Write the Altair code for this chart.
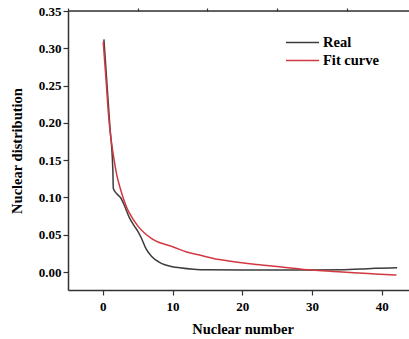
import altair as alt
import pandas as pd

real_x = [0.15, 0.5, 1.0, 1.43, 1.5, 2.0, 2.6, 3.1, 3.8, 4.5, 5.0, 5.5, 6.2, 7.0, 8.0, 9.0, 10.0, 11.0, 13.0, 15.0, 20.0, 25.0, 30.0, 34.0, 37.0, 39.0, 42.2]
real_y = [0.312, 0.264, 0.196, 0.137, 0.112, 0.105, 0.099, 0.089, 0.073, 0.062, 0.055, 0.046, 0.031, 0.021, 0.0138, 0.0095, 0.0072, 0.0058, 0.0038, 0.003, 0.0027, 0.0027, 0.0027, 0.003, 0.004, 0.005, 0.0058]

fit_x = [0.05, 0.5, 0.8, 1.0, 1.5, 2.0, 2.5, 3.0, 3.5, 4.0, 5.0, 6.0, 7.0, 8.0, 9.0, 10.0, 12.0, 14.0, 16.0, 18.0, 20.0, 22.5, 25.0, 28.0, 30.0, 33.0, 36.0, 39.0, 42.1]
fit_y = [0.309, 0.252, 0.212, 0.192, 0.157, 0.130, 0.112, 0.097, 0.085, 0.076, 0.062, 0.052, 0.045, 0.040, 0.037, 0.034, 0.027, 0.0225, 0.018, 0.015, 0.0125, 0.0097, 0.0075, 0.0045, 0.0027, 0.0008, -0.001, -0.0025, -0.004]

series_names = ["Real", "Fit curve"]
series_colors = ["#3c3c3c", "#d2383f"]

y_major = [0.0, 0.05, 0.10, 0.15, 0.20, 0.25, 0.30, 0.35]
y_minor = [-0.025, 0.025, 0.075, 0.125, 0.175, 0.225, 0.275, 0.325]
x_major = [0, 10, 20, 30, 40]
x_minor = [-5, 5, 15, 25, 35]

df = pd.concat([
    pd.DataFrame({"x": real_x, "y": real_y, "series": "Real", "o": range(len(real_x))}),
    pd.DataFrame({"x": fit_x, "y": fit_y, "series": "Fit curve", "o": range(len(fit_x))}),
])

FONT = "Liberation Serif"
AX = "#333333"
W, H = 341, 279

xscale = alt.Scale(domain=[-5, 43.9], nice=False, zero=False)
yscale = alt.Scale(domain=[-0.024, 0.35], nice=False, zero=False)

xaxis = alt.Axis(values=x_major, title="Nuclear number", format="d", grid=False,
                 domainColor=AX, domainWidth=1.5, tickColor=AX, tickWidth=1.2, tickSize=5,
                 labelFont=FONT, labelFontSize=13, labelFontWeight="bold", labelColor="black",
                 labelPadding=5, labelFlush=False,
                 titleFont=FONT, titleFontSize=14.5, titleFontWeight="bold", titleColor="black",
                 titleX=174.5, titleY=43, titleBaseline="alphabetic")
yaxis = alt.Axis(values=y_major, title="Nuclear distribution", format=".2f", grid=False,
                 domainColor=AX, domainWidth=1.5, tickColor=AX, tickWidth=1.2, tickSize=5,
                 labelFont=FONT, labelFontSize=13, labelFontWeight="bold", labelColor="black",
                 labelPadding=2, labelFlush=False,
                 titleFont=FONT, titleFontSize=14.5, titleFontWeight="bold", titleColor="black",
                 titleX=-50.5, titleBaseline="middle")

lines = alt.Chart(df).mark_line(strokeWidth=1.5, interpolate="monotone").encode(
    x=alt.X("x:Q", scale=xscale, axis=xaxis),
    y=alt.Y("y:Q", scale=yscale, axis=yaxis),
    color=alt.Color("series:N",
                    scale=alt.Scale(domain=series_names, range=series_colors),
                    legend=alt.Legend(title=None, orient="none", legendX=217, legendY=24.5,
                                      symbolType="stroke", symbolSize=1089, symbolStrokeWidth=1.5,
                                      clipHeight=14,
                                      labelFont=FONT, labelFontSize=14.5, labelFontWeight="bold",
                                      labelColor="black", labelOffset=3, rowPadding=3, padding=0)),
    order="o:Q",
)

minor_df = pd.DataFrame({"mx": x_minor + [None] * (len(y_minor) - len(x_minor)), "my": y_minor})
minor = alt.Chart(minor_df).mark_point(opacity=0).encode(
    x=alt.X("mx:Q", scale=xscale,
            axis=alt.Axis(values=x_minor, labels=False, title=None, domain=False, grid=False,
                          tickColor=AX, tickWidth=1.2, tickSize=3)),
    y=alt.Y("my:Q", scale=yscale,
            axis=alt.Axis(values=y_minor, labels=False, title=None, domain=False, grid=False,
                          tickColor=AX, tickWidth=1.2, tickSize=3)),
)

top = alt.Chart(pd.DataFrame({"a": [0]})).mark_rule(color=AX, strokeWidth=1.5).encode(
    x=alt.value(0), x2=alt.value(W), y=alt.value(0)
)

chart = alt.layer(lines, minor, top).resolve_axis(x="independent", y="independent").properties(
    width=W, height=H,
    autosize=alt.AutoSizeParams(type="none"),
    padding={"left": 68, "top": 11, "right": 0, "bottom": 49},
).configure_view(stroke=None).configure(background="white")

chart.save("out.html", embed_options={"renderer": "svg", "actions": False})
